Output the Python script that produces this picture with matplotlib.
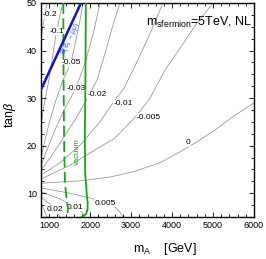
import matplotlib
matplotlib.use("Agg")
import matplotlib.pyplot as plt
from matplotlib.ticker import MultipleLocator

plt.rcParams['font.family'] = ['Liberation Sans', 'DejaVu Sans']
plt.rcParams['mathtext.fontset'] = 'custom'
plt.rcParams['mathtext.rm'] = 'Liberation Sans'
plt.rcParams['mathtext.it'] = 'Liberation Sans:italic'
plt.rcParams['mathtext.sf'] = 'Liberation Sans'

# ---- contour lines (mA [GeV], tan beta) ----
m_n020 = [800, 873, 946]
t_n020 = [42.6, 46.4, 50.0]
m_n010 = [800, 873, 971, 1069, 1166, 1264, 1337]
t_n010 = [24.3, 28.5, 32.8, 38.0, 43.3, 47.5, 50.0]
m_n005 = [800, 898, 1020, 1166, 1337, 1532, 1654, 1752, 1825]
t_n005 = [17.4, 21.2, 25.4, 29.6, 33.8, 37.4, 42.2, 46.4, 50.0]
m_n003 = [800, 946, 1142, 1386, 1654, 1898, 2094, 2240]
t_n003 = [15.9, 19.1, 23.3, 27.9, 32.1, 38.0, 44.3, 50.0]
m_n002 = [800, 1020, 1313, 1630, 1947, 2167, 2387, 2557, 2728]
t_n002 = [14.9, 17.4, 21.2, 25.4, 30.2, 33.8, 40.1, 45.4, 50.0]
m_n001 = [800, 1264, 1752, 2240, 2557, 2826, 3046, 3412, 3778]
t_n001 = [13.8, 16.4, 20.1, 25.0, 29.0, 32.1, 35.9, 42.6, 50.0]
m_n0005 = [800, 1508, 2118, 2606, 3143, 3461, 3827, 4193, 4608, 5000]
t_n0005 = [13.0, 15.9, 19.1, 21.6, 26.4, 30.0, 35.9, 40.5, 45.8, 50.0]
m_zero = [800, 1752, 2484, 3046, 3705, 4193, 4608, 5047, 5535, 6000]
t_zero = [12.1, 12.6, 13.4, 14.5, 16.4, 18.7, 20.8, 23.3, 26.4, 29.0]
m_p0005 = [800, 1508, 1996, 2362, 2606, 2728, 2802]
t_p0005 = [11.1, 10.0, 9.0, 7.9, 7.1, 6.05, 5.0]
m_p001 = [800, 1264, 1630, 1801, 1874]
t_p001 = [10.3, 8.8, 7.1, 6.05, 5.0]
m_p002 = [800, 1020, 1142, 1264]
t_p002 = [9.2, 7.7, 6.7, 5.0]
m_p005 = [800, 873, 946]
t_p005 = [7.9, 6.5, 5.0]

# contour label texts and positions
lab_text = ["-0.2", "-0.1", "-0.05", "-0.03", "-0.02", "-0.01", "-0.005", "0",
            "0.005", "0.01", "0.02"]
lab_m = [1020, 1191, 1532, 1654, 2167, 2802, 3436, 4388, 2362, 1630, 1142]
lab_t = [47.5, 44.1, 37.4, 32.1, 30.7, 28.8, 26.0, 20.6, 7.9, 7.1, 6.5]

# B(Bs->mumu) bound
m_bs = [800, 1776]
t_bs = [31.8, 50.0]
# vacuum stability (solid) and dashed variant
m_vac = [1895, 1885, 1870, 1880, 1915, 1940, 1935, 1895, 1790]
t_vac = [50, 35, 21, 14, 10, 8, 6.5, 5.6, 5]
m_vac2 = [1345, 1350, 1365, 1385, 1430, 1455, 1450, 1420]
t_vac2 = [50, 35, 20, 12, 8.5, 7, 6, 5]

contours = [(m_n020, t_n020), (m_n010, t_n010), (m_n005, t_n005), (m_n003, t_n003),
            (m_n002, t_n002), (m_n001, t_n001), (m_n0005, t_n0005), (m_zero, t_zero),
            (m_p0005, t_p0005), (m_p001, t_p001), (m_p002, t_p002), (m_p005, t_p005)]

fig = plt.figure(figsize=(2.66, 2.59), dpi=100)
ax = fig.add_axes([41/266, 42/259, 213/266, 214/259])

for mm, tt in contours:
    ax.plot(mm, tt, color='#9a9a9a', lw=0.6, zorder=1, solid_joinstyle='round')

for s, x, y in zip(lab_text, lab_m, lab_t):
    ax.text(x, y, s, fontsize=6, ha='center', va='center', zorder=2,
            bbox=dict(boxstyle='square,pad=0.05', fc='white', ec='none'))

green = '#14a814'
ax.plot(m_vac, t_vac, color=green, lw=1.3, zorder=3)
ax.plot(m_vac2, t_vac2, color=green, lw=1.3, ls=(0, (6, 2.5)), zorder=3)
ax.plot(m_bs, t_bs, color='#1010e0', lw=1.8, zorder=3)

ax.text(1679, 18.7, "vacuum", color=green, fontsize=5.5, rotation=90,
        ha='center', va='center', zorder=4)
ax.text(1508, 42.6, r"B(B$_s$$\rightarrow$$\mu\mu$)", color='#3050ff', fontsize=5,
        rotation=65, ha='center', va='center', zorder=4)

ax.text(0.99, 0.91, r"m$_{\rm sfermion}$=5TeV, NL", transform=ax.transAxes,
        ha='right', va='center', fontsize=9, zorder=5)

ax.set_xlim(800, 6000)
ax.set_ylim(5, 50)
ax.xaxis.set_major_locator(MultipleLocator(1000))
ax.xaxis.set_minor_locator(MultipleLocator(200))
ax.yaxis.set_major_locator(MultipleLocator(10))
ax.yaxis.set_minor_locator(MultipleLocator(2.5))
ax.tick_params(which='both', direction='in', top=True, right=True, width=0.6,
               labelsize=6.5, pad=3)
ax.tick_params(which='major', length=3.5)
ax.tick_params(which='minor', length=2)
for sp in ax.spines.values():
    sp.set_linewidth(1.0)

fig.text(10/266, 1 - 115/259, r"tan$\beta$", rotation=90, fontsize=9,
         ha='center', va='center')
fig.text(165/266, 1 - 249/259, r"m$_{\rm A}$    [GeV]", fontsize=9,
         ha='center', va='center')

fig.savefig("out.png", dpi=100)
